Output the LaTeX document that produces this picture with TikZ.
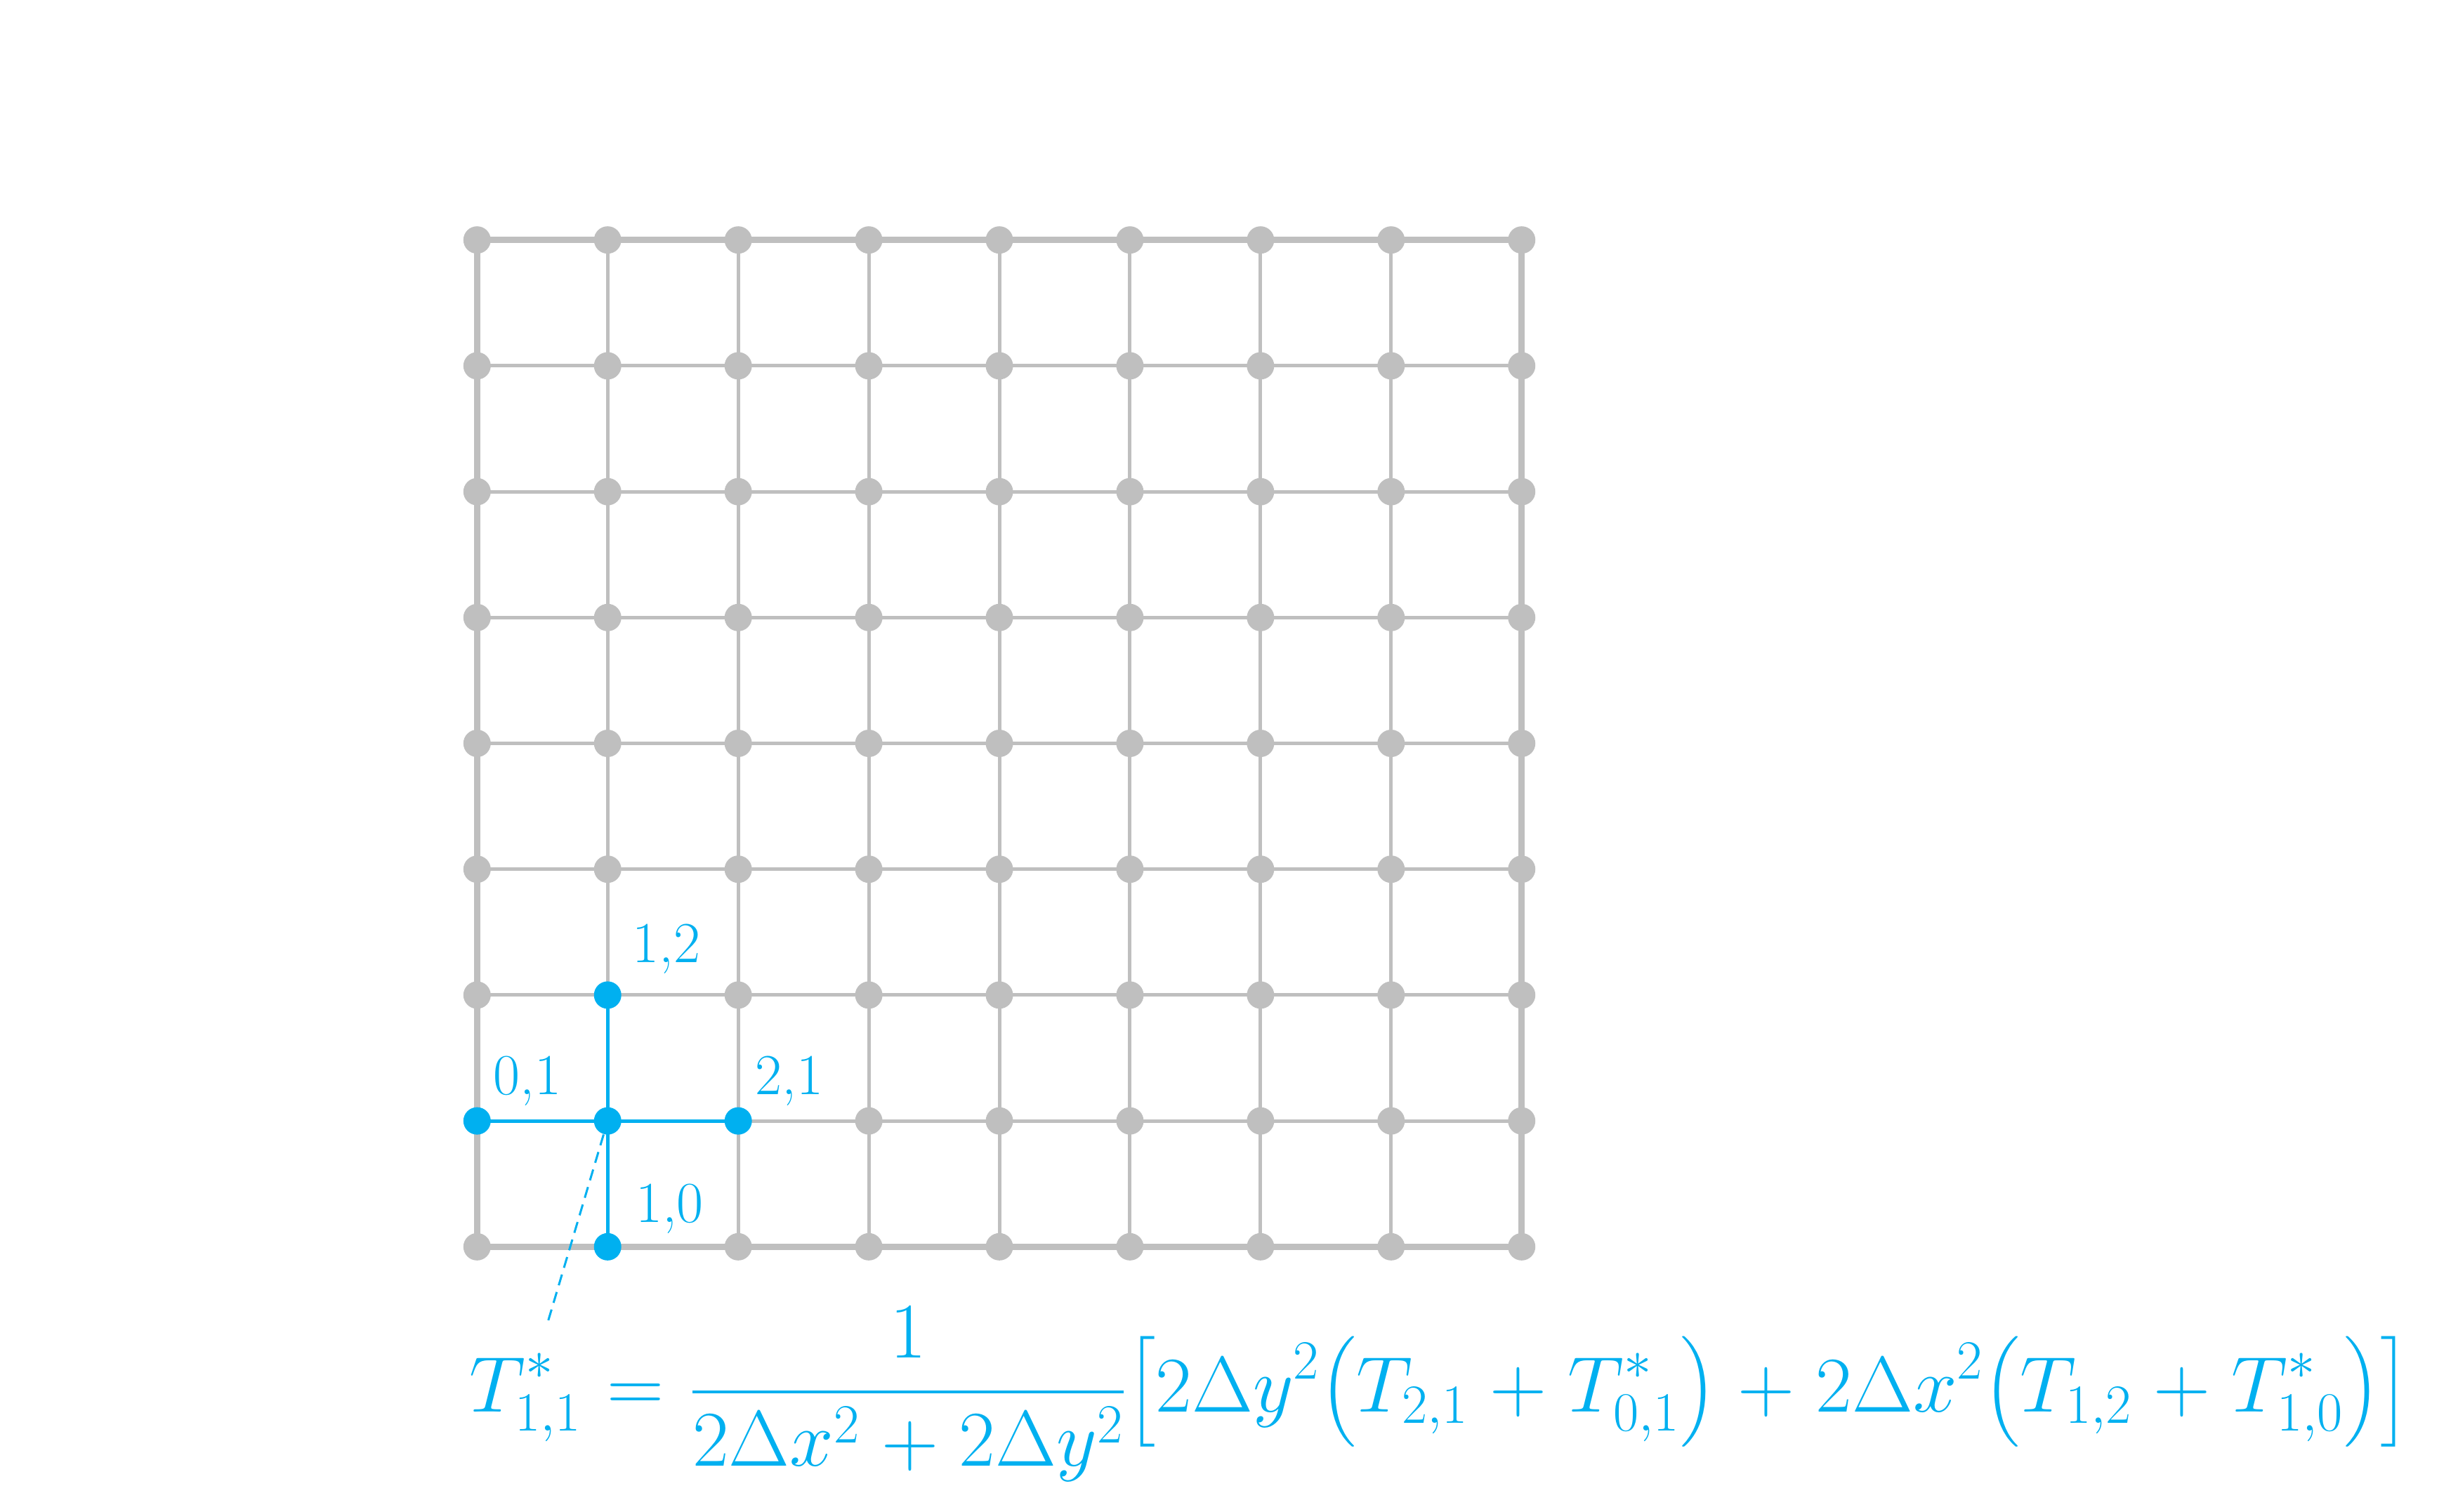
\RequirePackage{fix-cm}
\documentclass[tikz,border=0pt]{standalone}
\usepackage{amsmath}
\definecolor{gridgray}{HTML}{BFBFBF}
\definecolor{hiblue}{HTML}{00B0F0}
\pgfdeclarelayer{bg}
\pgfsetlayers{bg,main}
\begin{document}
\begin{tikzpicture}[x=1cm,y=1cm,
  dot/.style={circle,inner sep=0pt,minimum size=3.9mm},
  gline/.style={draw=gridgray,line width=0.5mm},
  gborder/.style={draw=gridgray,line width=0.9mm,line join=round},
  bline/.style={draw=hiblue,line width=0.5mm},
  lbl/.style={text=hiblue,anchor=base west,inner sep=0pt,font=\fontsize{23.5}{28}\selectfont},
  eqstyle/.style={text=hiblue,anchor=base west,inner sep=0pt,font=\fontsize{32}{38}\selectfont},
  dashlink/.style={draw=hiblue,line width=0.3mm,dash pattern=on 1.6mm off 1mm},
]
\useasboundingbox (0,0) rectangle (35,-21.52);
% grid points
\foreach \i in {0,...,8}{
  \foreach \j in {0,...,8}{
    \pgfmathtruncatemacro\isb{((\i==1)&&(\j<3))||((\j==1)&&(\i<3))}
    \ifnum\isb=1 \def\dcol{hiblue}\else\def\dcol{gridgray}\fi
    \node[dot,fill=\dcol] (p-\i-\j) at ({6.793+\i*1.8593},{-17.753+\j*1.792}) {};
  }
}
\begin{pgfonlayer}{bg}
  \foreach \k in {1,...,7}{
    \draw[gline] (p-0-\k.center) -- (p-8-\k.center);
    \draw[gline] (p-\k-0.center) -- (p-\k-8.center);
  }
  \draw[gborder] (p-0-0.center) -- (p-8-0.center) -- (p-8-8.center) -- (p-0-8.center) -- cycle;
  \draw[bline] (p-0-1.center) -- (p-1-1.center) -- (p-2-1.center);
  \draw[bline] (p-1-0.center) -- (p-1-1.center) -- (p-1-2.center);
\end{pgfonlayer}
% labels
\node[lbl] (l12) at (9.00,-13.70) {1,2};
\node[lbl] (l01) at (7.02,-15.58) {0,1};
\node[lbl] (l21) at (10.75,-15.58) {2,1};
\node[lbl] (l10) at (9.045,-17.40) {1,0};
% formula
\coordinate (dashend) at (7.79,-18.86);
\draw[dashlink] (p-1-1) -- (dashend);
\node[eqstyle] (eq) at (6.68,-20.10) {\medmuskip=4.8mu plus 2mu minus 4mu\thickmuskip=5.8mu plus 5mu$\displaystyle T^{*}_{1,1} = \frac{1}{2\Delta x^{2}+2\Delta y^{2}}\bigl[2\Delta y^{2}\bigl(T_{2,1}+T^{*}_{0,1}\bigr)+2\Delta x^{2}\bigl(T_{1,2}+T^{*}_{1,0}\bigr)\bigr]$};
\end{tikzpicture}
\end{document}
